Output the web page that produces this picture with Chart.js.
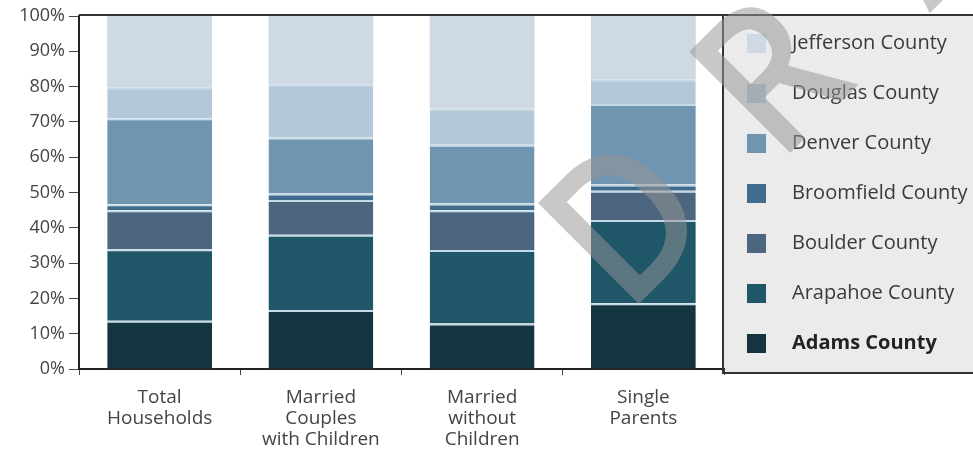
<!DOCTYPE html>
<html>
<head>
<meta charset="utf-8">
<script src="https://cdn.jsdelivr.net/npm/chart.js@4.4.0/dist/chart.umd.min.js"></script>
<style>
  html, body { margin: 0; padding: 0; background: #fff; }
</style>
</head>
<body>
<canvas id="myChart" width="973" height="452"></canvas>
<script>
// household types (multi-line labels under the bars)
const categories = [
  ["Total", "Households"],
  ["Married", "Couples", "with Children"],
  ["Married", "without", "Children"],
  ["Single", "Parents"]
];

// share of each household type by county, in percent
const adams = [13.7, 16.7, 12.9, 18.6];
const arapahoe = [20.2, 21.3, 20.8, 23.6];
const boulder = [11.1, 9.9, 11.3, 8.3];
const broomfield = [1.7, 1.8, 1.9, 1.8];
const denver = [24.3, 15.9, 16.6, 22.8];
const douglas = [8.8, 15.1, 10.3, 7.0];
const jefferson = [20.2, 19.3, 26.2, 17.9];

const yTicks = [0, 10, 20, 30, 40, 50, 60, 70, 80, 90, 100];

const FONT = '"Open Sans", "DejaVu Sans", sans-serif';
const SEP = "rgba(190, 214, 228, 0.9)";

function series(label, data, color, top) {
  return {
    label: label,
    data: data,
    backgroundColor: color,
    borderColor: SEP,
    borderWidth: top ? 0 : { top: 2, left: 0, right: 0, bottom: 0 },
    borderSkipped: "start"
  };
}

// legend drawn into the grey panel on the right, top to bottom
const panelLegend = {
  id: "panelLegend",
  beforeDraw(chart) {
    const ctx = chart.ctx;
    const area = chart.chartArea;
    ctx.save();
    ctx.fillStyle = "#ebebeb";
    ctx.fillRect(area.right, area.top, chart.width - area.right, 357);
    ctx.restore();
  },
  afterDraw(chart) {
    const ctx = chart.ctx;
    const area = chart.chartArea;
    ctx.save();
    ctx.strokeStyle = "#333";
    ctx.lineWidth = 2;
    ctx.beginPath();
    ctx.moveTo(area.left, area.top - 1);
    ctx.lineTo(chart.width, area.top - 1);
    ctx.moveTo(area.right - 1, area.top - 1);
    ctx.lineTo(area.right - 1, area.top + 357);
    ctx.lineTo(chart.width, area.top + 357);
    ctx.stroke();

    const sets = chart.data.datasets.slice().reverse();
    ctx.textBaseline = "middle";
    ctx.textAlign = "left";
    sets.forEach((ds, i) => {
      const y = area.top + 27 + i * 50;
      ctx.fillStyle = ds.backgroundColor;
      ctx.fillRect(area.right + 23, y - 9, 19, 19);
      const bold = i === sets.length - 1;
      ctx.font = (bold ? "bold " : "") + "20px " + FONT;
      ctx.fillStyle = bold ? "#222" : "#3a3a3a";
      ctx.fillText(ds.label, area.right + 68, y);
    });
    ctx.restore();
  }
};

// faint diagonal stamp across the chart, letters spread along the diagonal
const stamp = {
  id: "stamp",
  afterDraw(chart) {
    const ctx = chart.ctx;
    const word = "DRAFT";
    ctx.save();
    ctx.translate(627, 316);
    ctx.rotate(-Math.PI / 4);
    ctx.font = "600 200px " + FONT;
    ctx.fillStyle = "rgba(150, 150, 150, 0.52)";
    ctx.textBaseline = "alphabetic";
    for (let i = 0; i < word.length; i++) {
      ctx.save();
      ctx.translate(i * 214, 0);
      ctx.scale(0.9, 1);
      ctx.fillText(word[i], 0, 0);
      ctx.restore();
    }
    ctx.restore();
  }
};

new Chart(document.getElementById("myChart"), {
  type: "bar",
  data: {
    labels: categories,
    datasets: [
      series("Adams County", adams, "#14343f"),
      series("Arapahoe County", arapahoe, "#1f5668"),
      series("Boulder County", boulder, "#4d6680"),
      series("Broomfield County", broomfield, "#426c8e"),
      series("Denver County", denver, "#6f95b1"),
      series("Douglas County", douglas, "#b3c7d8"),
      series("Jefferson County", jefferson, "#cfd9e3", true)
    ]
  },
  options: {
    responsive: false,
    devicePixelRatio: 1,
    animation: false,
    layout: { padding: { top: 16, right: 249, left: 0, bottom: 0 } },
    datasets: { bar: { categoryPercentage: 1, barPercentage: 0.65 } },
    plugins: {
      legend: { display: false },
      tooltip: { enabled: false }
    },
    scales: {
      x: {
        stacked: true,
        grid: {
          offset: true,
          drawOnChartArea: false,
          drawTicks: true,
          tickLength: 6,
          color: "#444"
        },
        border: { display: true, color: "#222", width: 2 },
        ticks: {
          color: "#444",
          padding: 12,
          font: { family: FONT, size: 19, lineHeight: 1.1 },
          maxRotation: 0
        },
        afterFit(axis) { axis.height = 83; }
      },
      y: {
        stacked: true,
        min: 0,
        max: 100,
        afterBuildTicks(axis) { axis.ticks = yTicks.map(v => ({ value: v })); },
        grid: {
          drawOnChartArea: false,
          drawTicks: true,
          tickLength: 10,
          color: "#444"
        },
        border: { display: true, color: "#222", width: 2 },
        ticks: {
          color: "#444",
          padding: 4,
          font: { family: FONT, size: 18 },
          callback: v => v + "%"
        },
        afterFit(axis) { axis.width = 79; }
      }
    }
  },
  plugins: [panelLegend, stamp]
});
</script>
</body>
</html>
